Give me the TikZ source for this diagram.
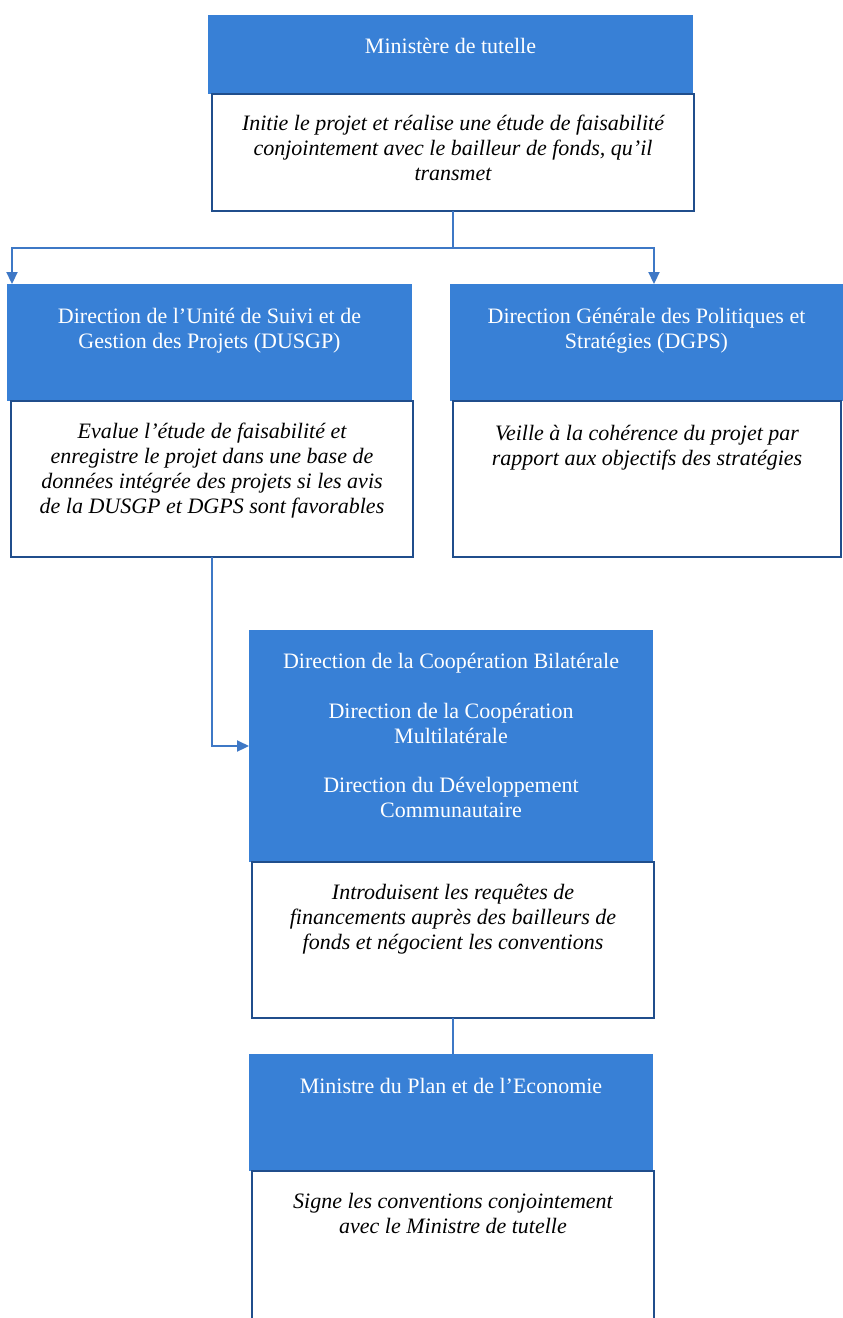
\documentclass[tikz,border=0pt]{standalone}
\usepackage{fontspec}
\setmainfont{Liberation Serif}
\usetikzlibrary{arrows.meta}
\definecolor{boxblue}{RGB}{56,128,214}
\definecolor{navy}{RGB}{32,78,140}
\definecolor{linkblue}{RGB}{62,120,198}
\begin{document}
\begin{tikzpicture}[x=1pt,y=-1pt,
  bluebox/.style={fill=boxblue, draw=none, anchor=north west, inner sep=0pt, outer sep=0pt},
  whitebox/.style={fill=white, draw=navy, line width=1.6pt, anchor=north west, inner sep=0pt, outer sep=0pt},
  hdr/.style={anchor=north, align=center, text=white, font=\fontsize{22}{24.8}\selectfont, inner sep=0pt},
  desc/.style={anchor=north, align=center, text=black, font=\fontsize{22}{24.8}\selectfont\itshape, inner sep=0pt},
  link/.style={draw=linkblue, line width=2.2pt},
  tip/.style={-{Triangle[length=12pt,width=11pt]}}
]
\useasboundingbox (0,0) rectangle (843,1318);
\clip (0,0) rectangle (843,1318);

% boxes
\node[bluebox, minimum width=485pt, minimum height=79pt] (topB) at (208,15) {};
\node[whitebox, minimum width=482pt, minimum height=117pt] (topW) at (212,94) {};
\node[bluebox, minimum width=405pt, minimum height=117pt] (lB) at (7,284) {};
\node[whitebox, minimum width=402pt, minimum height=156pt] (lW) at (11,401) {};
\node[bluebox, minimum width=393pt, minimum height=117pt] (rB) at (450,284) {};
\node[whitebox, minimum width=388pt, minimum height=156pt] (rW) at (453,401) {};
\node[bluebox, minimum width=404pt, minimum height=232pt] (mB) at (249,630) {};
\node[whitebox, minimum width=402pt, minimum height=156pt] (mW) at (252,862) {};
\node[bluebox, minimum width=404pt, minimum height=117pt] (bB) at (249,1054) {};
\node[whitebox, minimum width=402pt, minimum height=170pt] (bW) at (252,1171) {};

% texts
\node[hdr] (topBt) at ([yshift=-23pt]topB.north) {Ministère de tutelle};
\node[desc] (topWt) at ([yshift=-21pt]topW.north) {Initie le projet et réalise une étude de faisabilité\\conjointement avec le bailleur de fonds, qu’il\\transmet};
\node[hdr] (lBt) at ([yshift=-24pt]lB.north) {Direction de l’Unité de Suivi et de\\Gestion des Projets (DUSGP)};
\node[desc] (lWt) at ([yshift=-22pt]lW.north) {Evalue l’étude de faisabilité et\\enregistre le projet dans une base de\\données intégrée des projets si les avis\\de la DUSGP et DGPS sont favorables};
\node[hdr] (rBt) at ([yshift=-24pt]rB.north) {Direction Générale des Politiques et\\Stratégies (DGPS)};
\node[desc] (rWt) at ([yshift=-24pt]rW.north) {Veille à la cohérence du projet par\\rapport aux objectifs des stratégies};
\node[hdr] (mBt) at ([yshift=-23pt]mB.north) {Direction de la Coopération Bilatérale\\[25pt]Direction de la Coopération\\Multilatérale\\[25pt]Direction du Développement\\Communautaire};
\node[desc] (mWt) at ([yshift=-22pt]mW.north) {Introduisent les requêtes de\\financements auprès des bailleurs de\\fonds et négocient les conventions};
\node[hdr] (bBt) at ([yshift=-24pt]bB.north) {Ministre du Plan et de l’Economie};
\node[desc] (bWt) at ([yshift=-22pt]bW.north) {Signe les conventions conjointement\\avec le Ministre de tutelle};

% connectors
\draw[link] (topW.south) -- ++(0,37) coordinate (j);
\draw[link,tip] (j) -| ([xshift=5pt]lB.north west);
\draw[link,tip] (j) -| ([xshift=204pt]rB.north west);
\draw[link,tip] ([xshift=201pt]lW.south west) |- (mB.west);
\draw[link] (mW.south) -- (mW.south |- bB.north);
\end{tikzpicture}
\end{document}
